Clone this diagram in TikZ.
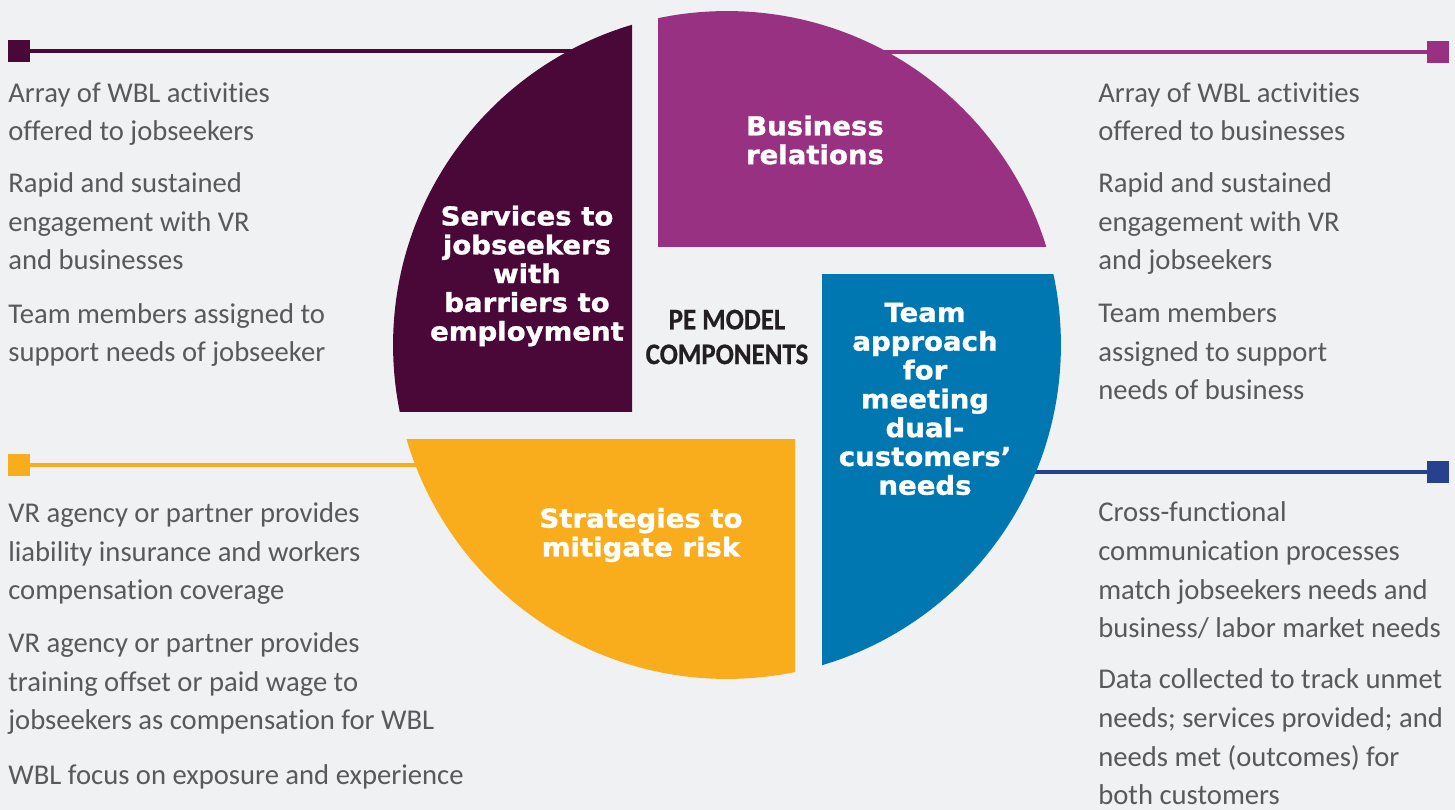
\documentclass[tikz,border=0pt]{standalone}
\usepackage{fontspec}
\setmainfont[Ligatures=NoCommon]{Carlito}
\newfontfamily\piefont[FakeStretch=1.06,FakeBold=1.2]{DejaVu Sans}
\newfontfamily\pefont[FakeStretch=0.9,FakeBold=0.6]{Carlito}
\usetikzlibrary{positioning,shapes.geometric,arrows}
\definecolor{bgc}{HTML}{F0F1F3}
\definecolor{jobc}{HTML}{4A0839}
\definecolor{busc}{HTML}{983181}
\definecolor{teamc}{HTML}{0077B0}
\definecolor{riskc}{HTML}{F9AD1D}
\definecolor{navyc}{HTML}{27418F}
\definecolor{txtc}{HTML}{58595B}
\definecolor{pec}{HTML}{231F20}
\tikzstyle{endsq} = [rectangle, minimum size=0.44cm, inner sep=0pt]
\tikzstyle{leader} = [line width=2.6pt]
\tikzstyle{sidetext} = [anchor=base west, align=left, inner sep=0pt, text=txtc, font=\fontsize{16.3}{22.1}\selectfont]
\tikzstyle{pietext} = [align=center, inner sep=0pt, text=white, font=\piefont\bfseries\fontsize{14.8}{16.4}\selectfont]
\tikzstyle{petext} = [align=center, inner sep=0pt, text=pec, font=\pefont\bfseries\fontsize{17}{19.8}\selectfont]

\begin{document}
\begin{tikzpicture}[x=0.02cm, y=-0.02cm]
\fill[bgc] (0,0) rectangle (1455,810);
\useasboundingbox (0,0) rectangle (1455,810);

% leader lines, drawn under the pie
\node (sqjob) [endsq, fill=jobc] at (19,51) {};
\coordinate (pjob) at (600,51);
\node (sqbus) [endsq, fill=busc] at (1438,52) {};
\coordinate (pbus) at (800,52);
\node (sqrisk) [endsq, fill=riskc] at (19,465) {};
\coordinate (prisk) at (560,465);
\node (sqteam) [endsq, fill=navyc] at (1438,472) {};
\coordinate (pteam) at (900,472);

\draw [leader, jobc] (sqjob) -- (pjob);
\draw [leader, busc] (sqbus) -- (pbus);
\draw [leader, riskc] (sqrisk) -- (prisk);
\draw [leader, navyc] (sqteam) -- (pteam);

% pie
\begin{scope}
\clip (0,0) rectangle (632,412);
\fill[jobc] (727,345) circle (6.68cm);
\end{scope}
\begin{scope}
\clip (658,0) rectangle (1455,247);
\fill[busc] (727,345) circle (6.68cm);
\end{scope}
\begin{scope}
\clip (822,275) rectangle (1455,810);
\fill[teamc] (727,345) circle (6.68cm);
\end{scope}
\begin{scope}
\clip (0,440) rectangle (795,810);
\fill[riskc] (727,345) circle (6.68cm);
\end{scope}

\node (job) [pietext] at (527,276) {Services to\\jobseekers\\with\\barriers to\\employment};
\node (bus) [pietext] at (815,140) {Business\\relations};
\node (team) [pietext] at (925,399) {Team\\approach\\for\\meeting\\dual-\\customers’\\needs};
\node (risk) [pietext] at (641,535) {Strategies to\\mitigate risk};
\node (pe) [petext] at (727,337) {PE MODEL\\COMPONENTS};

% side texts, placed at the baseline of their last line
\node (jobA) [sidetext] at (8,141) {Array of WBL activities\\offered to jobseekers};
\node (jobB) [sidetext] at (8,270) {Rapid and sustained\\engagement with VR\\and businesses};
\node (jobC) [sidetext] at (8,362) {Team members assigned to\\support needs of jobseeker};
\node (busA) [sidetext] at (1098,141) {Array of WBL activities\\offered to businesses};
\node (busB) [sidetext] at (1098,270) {Rapid and sustained\\engagement with VR\\and jobseekers};
\node (busC) [sidetext] at (1098,400) {Team members\\assigned to support\\needs of business};
\node (riskA) [sidetext] at (8,600) {VR agency or partner provides\\liability insurance and workers\\compensation coverage};
\node (riskB) [sidetext] at (8,730) {VR agency or partner provides\\training offset or paid wage to\\jobseekers as compensation for WBL};
\node (riskC) [sidetext] at (8,785) {WBL focus on exposure and experience};
\node (teamA) [sidetext] at (1098,638) {Cross-functional\\communication processes\\match jobseekers needs and\\business/ labor market needs};
\node (teamB) [sidetext] at (1098,805) {Data collected to track unmet\\needs; services provided; and\\needs met (outcomes) for\\both customers};
\end{tikzpicture}
\end{document}
